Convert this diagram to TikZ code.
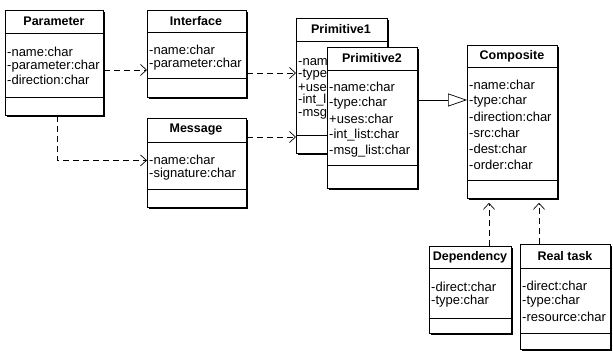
\documentclass[tikz,border=0pt]{standalone}
\usepackage{fontspec}
\setmainfont{Liberation Sans}
\usetikzlibrary{arrows.meta,shadows}

\begin{document}
\begin{tikzpicture}[x=1pt,y=-1pt,
  classbox/.style={draw,line width=0.8pt,fill=white,anchor=north west,inner sep=0pt,
    drop shadow={shadow xshift=2pt,shadow yshift=-2pt,fill=black,opacity=1}},
  title/.style={font=\fontsize{12.5}{14}\selectfont\bfseries,inner sep=0pt},
  attr/.style={font=\fontsize{13}{14}\selectfont,anchor=west,inner sep=0pt},
  dep/.style={line width=0.7pt,dash pattern=on 6pt off 4pt,-{Straight Barb[length=6pt,width=11pt]}},
  gen/.style={line width=0.7pt,-{Triangle[open,length=19pt,width=13pt,fill=white]}}]
\useasboundingbox (0,0) rectangle (613,352);

% Parameter
\node[classbox,minimum width=98pt,minimum height=105pt] (param) at (5,10) {};
\draw (5,33)--(103,33) (5,97)--(103,97);
\node[title] (paramt) at (54,21) {Parameter};
\node[attr] (parama) at (7,52) {-name:char};
\node[attr] (paramb) at (7,66) {-parameter:char};
\node[attr] (paramc) at (7,80) {-direction:char};

% Interface
\node[classbox,minimum width=99pt,minimum height=87pt] (iface) at (147,10) {};
\draw (147,32)--(246,32) (147,78)--(246,78);
\node[title] (ifacet) at (196,21) {Interface};
\node[attr] (ifacea) at (149,50) {-name:char};
\node[attr] (ifaceb) at (149,64) {-parameter:char};

% Message
\node[classbox,minimum width=99pt,minimum height=89pt] (msg) at (147,118) {};
\draw (147,142)--(246,142) (147,189)--(246,189);
\node[title] (msgt) at (196,130) {Message};
\node[attr] (msga) at (149,160) {-name:char};
\node[attr] (msgb) at (149,174) {-signature:char};

% Primitive1
\node[classbox,minimum width=91pt,minimum height=135pt] (prim1) at (296,18) {};
\draw (296,41)--(387,41) (296,135)--(387,135);
\node[title] (prim1t) at (341,29) {Primitive1};
\foreach \t [count=\i] in {-name:char,-type:char,+uses:char,-int\_list:char,-msg\_list:char}
  \node[attr] (prim1a\i) at (298,48+13*\i) {\t};

% Primitive2
\node[classbox,minimum width=90pt,minimum height=141pt] (prim2) at (327,47) {};
\draw (327,70)--(417,70) (327,165)--(417,165);
\node[title] (prim2t) at (372,58) {Primitive2};
\foreach \t [count=\i] in {-name:char,-type:char,+uses:char,-int\_list:char,-msg\_list:char}
  \node[attr] (prim2a\i) at (329,71+16*\i) {\t};

% Composite
\node[classbox,minimum width=90pt,minimum height=153pt] (comp) at (467,45) {};
\draw (467,67)--(557,67) (467,180)--(557,180);
\node[title] (compt) at (512,56) {Composite};
\foreach \t [count=\i] in {-name:char,-type:char,-direction:char,-src:char,-dest:char,-order:char}
  \node[attr] (compa\i) at (469,69+16*\i) {\t};

% Dependency
\node[classbox,minimum width=82pt,minimum height=87pt] (depy) at (429,246) {};
\draw (429,268)--(511,268) (429,318)--(511,318);
\node[title] (depyt) at (470,257) {Dependency};
\node[attr] (depya) at (431,287) {-direct:char};
\node[attr] (depyb) at (431,301) {-type:char};

% Real task
\node[classbox,minimum width=90pt,minimum height=105pt] (real) at (520,244) {};
\draw (520,268)--(610,268) (520,333)--(610,333);
\node[title] (realt) at (565,256) {Real task};
\node[attr] (reala) at (522,286) {-direct:char};
\node[attr] (realb) at (522,301) {-type:char};
\node[attr] (realc) at (522,317) {-resource:char};

% connectors
\draw[dep] (param.east |- 0,70) -- (iface.west |- 0,70);
\draw[dep] (iface.east |- 0,73) -- (prim1.west |- 0,73);
\draw[dep] (msg.east |- 0,137) -- (prim1.west |- 0,137);
\draw[dep] ([xshift=3pt]param.south) |- ([yshift=2.5pt]msg.west);
\draw[gen] (prim2.east |- 0,100) -- (comp.west |- 0,100);
\draw[dep] (depy.north -| 489,0) -- ([yshift=-4pt]comp.south -| 489,0);
\draw[dep] (real.north -| 539,0) -- ([yshift=-4pt]comp.south -| 539,0);
\end{tikzpicture}
\end{document}
